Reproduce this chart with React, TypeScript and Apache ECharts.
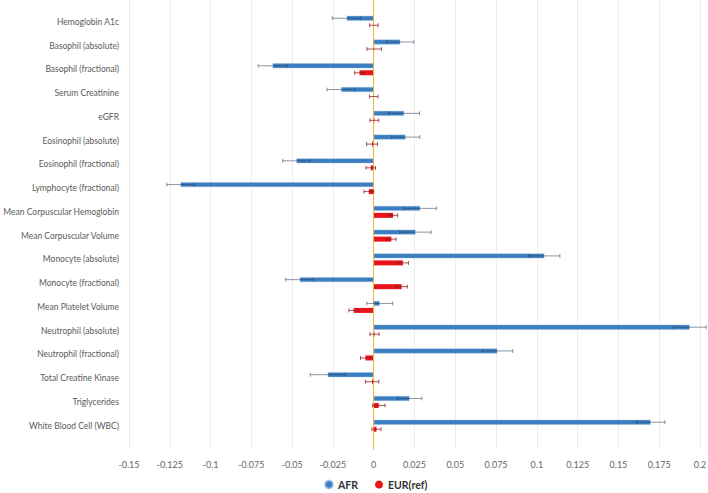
import React, { useEffect, useRef } from "react";
import * as echarts from "echarts";

const categories = [
  "Hemoglobin A1c",
  "Basophil (absolute)",
  "Basophil (fractional)",
  "Serum Creatinine",
  "eGFR",
  "Eosinophil (absolute)",
  "Eosinophil (fractional)",
  "Lymphocyte (fractional)",
  "Mean Corpuscular Hemoglobin",
  "Mean Corpuscular Volume",
  "Monocyte (absolute)",
  "Monocyte (fractional)",
  "Mean Platelet Volume",
  "Neutrophil (absolute)",
  "Neutrophil (fractional)",
  "Total Creatine Kinase",
  "Triglycerides",
  "White Blood Cell (WBC)",
];

const afrMean = [-0.0166, 0.0163, -0.062, -0.02, 0.0186, 0.0195, -0.0474, -0.1184, 0.0285, 0.0256, 0.1046, -0.0454, 0.0037, 0.1937, 0.0758, -0.0282, 0.022, 0.1698];
const afrErr = [0.0088, 0.0083, 0.0088, 0.0086, 0.0094, 0.0087, 0.0084, 0.0084, 0.0099, 0.0096, 0.0095, 0.0086, 0.008, 0.0101, 0.0094, 0.0107, 0.0075, 0.0087];
const eurMean = [0.0001, 0.0003, -0.0087, 0.0, 0.0004, -0.001, -0.0018, -0.003, 0.0119, 0.0108, 0.0179, 0.0171, -0.0123, 0.0005, -0.0051, -0.001, 0.0031, 0.0017];
const eurErr = [0.0026, 0.0044, 0.003, 0.0026, 0.0027, 0.0033, 0.0029, 0.003, 0.0028, 0.0029, 0.0034, 0.0035, 0.0029, 0.0028, 0.003, 0.0041, 0.0038, 0.0028];

const xMin = -0.15;
const xMax = 0.2;
const xStep = 0.025;

const BLUE = "#3a7dc0";
const RED = "#e8141c";
const BAR_W = 5;
const GAP_PX = 2;
const FONT = "Lato, 'Liberation Sans', sans-serif";

function makeErrorSeries(name: string, means: number[], errs: number[], side: number, color: string) {
  const data = means.map((m, i) => [i + 1, m, errs[i]]);
  return {
    type: "custom",
    name: name + "-err",
    coordinateSystem: "cartesian2d",
    silent: true,
    z: 5,
    encode: { x: 1, y: 0 },
    data,
    renderItem: (params: any, api: any) => {
      const cat = api.value(0);
      const m = api.value(1);
      const e = api.value(2);
      const p1 = api.coord([m - e, cat]);
      const p2 = api.coord([m + e, cat]);
      const off = side * (BAR_W + GAP_PX) / 2;
      const y = p1[1] + off;
      const cap = 2;
      const style = { stroke: color, lineWidth: 1, fill: "none" };
      return {
        type: "group",
        children: [
          { type: "line", shape: { x1: p1[0], y1: y, x2: p2[0], y2: y }, style },
          { type: "line", shape: { x1: p1[0], y1: y - cap, x2: p1[0], y2: y + cap }, style },
          { type: "line", shape: { x1: p2[0], y1: y - cap, x2: p2[0], y2: y + cap }, style },
        ],
      };
    },
  };
}

export default function App() {
  const ref = useRef<HTMLDivElement>(null);
  useEffect(() => {
    if (!ref.current) return;
    const chart = echarts.init(ref.current, undefined, { renderer: "svg" });
    const yData = ["", ...categories, ""];
    const pad = (arr: number[]) => [null, ...arr, null];
    chart.setOption({
      animation: false,
      textStyle: { fontFamily: FONT },
      grid: { left: 129, right: 8, top: -2, bottom: 43.5, containLabel: false, outerBoundsMode: "none" },
      legend: {
        data: [
          { name: "AFR", icon: "circle" },
          { name: "EUR(ref)", icon: "circle" },
        ],
        left: 319,
        top: 474,
        itemWidth: 8,
        itemHeight: 8,
        itemGap: 17,
        textStyle: { fontFamily: FONT, fontSize: 10.5, fontWeight: "bold", color: "#333" },
      },
      xAxis: {
        type: "value",
        min: xMin,
        max: xMax,
        interval: xStep,
        axisLine: { show: false },
        axisTick: { show: false },
        splitLine: { show: true, lineStyle: { color: "#ececec", width: 1 } },
        axisLabel: {
          fontFamily: FONT,
          fontSize: 9,
          color: "#666",
          margin: 10,
          formatter: (v: number) => String(+v.toFixed(4)),
        },
      },
      yAxis: {
        type: "category",
        inverse: true,
        boundaryGap: false,
        data: yData,
        axisLine: { show: false },
        axisTick: { show: false },
        splitLine: { show: false },
        axisLabel: { fontFamily: FONT, fontSize: 8.5, color: "#5a5a5a", margin: 10, interval: 0 },
      },
      series: [
        {
          type: "bar",
          name: "AFR",
          data: pad(afrMean),
          barWidth: BAR_W,
          barGap: (GAP_PX / BAR_W) * 100 + "%",
          itemStyle: { color: BLUE, borderColor: "rgba(150,190,225,0.7)", borderWidth: 0.6 },
          markLine: {
            silent: true,
            symbol: "none",
            label: { show: false },
            lineStyle: { color: "#f0b443", type: "solid", width: 1 },
            data: [{ xAxis: 0 }],
          },
        },
        {
          type: "bar",
          name: "EUR(ref)",
          data: pad(eurMean),
          barWidth: BAR_W,
          itemStyle: { color: RED },
        },
        makeErrorSeries("AFR", afrMean, afrErr, -1, "rgba(45,60,90,0.55)"),
        makeErrorSeries("EUR", eurMean, eurErr, 1, "rgba(140,25,30,0.75)"),
      ],
    });
    return () => chart.dispose();
  }, []);
  return (
    <div
      ref={ref}
      style={{ position: "fixed", left: 0, top: 0, width: 708, height: 493, background: "#fff" }}
    />
  );
}
